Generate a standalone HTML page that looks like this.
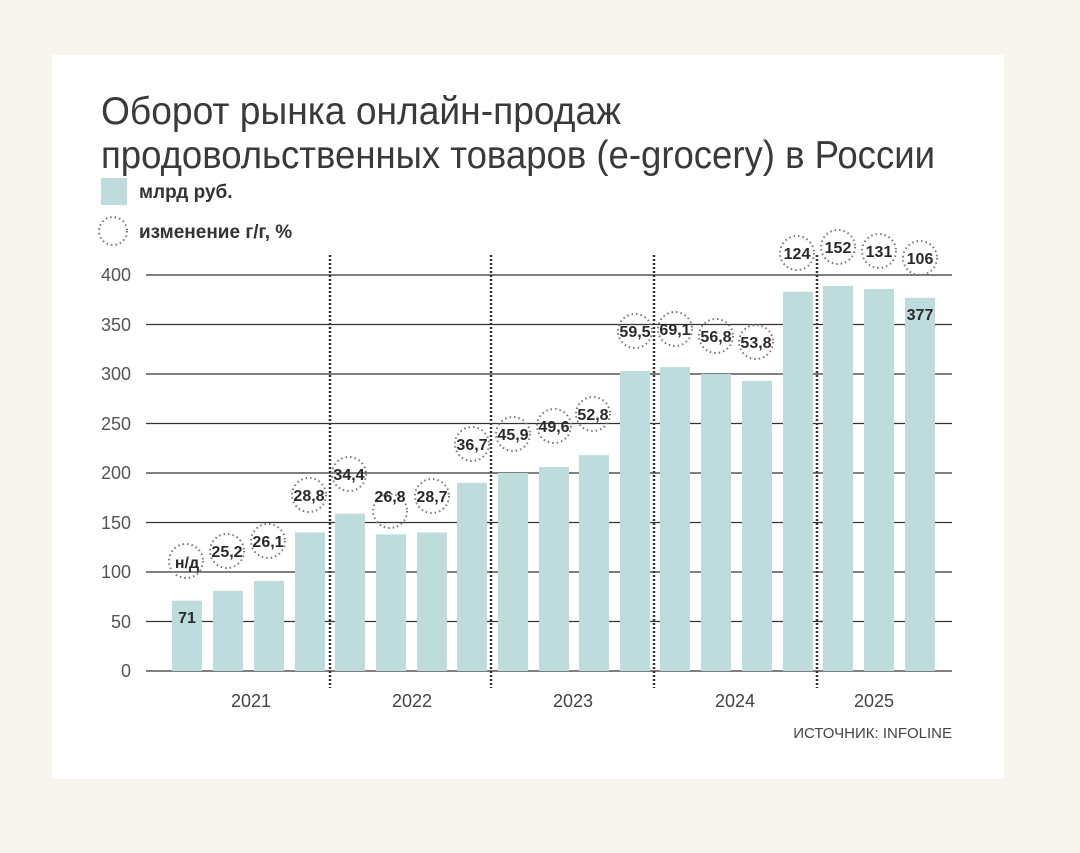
<!DOCTYPE html>
<html><head><meta charset="utf-8"><style>
body{margin:0;background:#f8f4ee;}
svg{display:block}
text{font-family:"Liberation Sans",sans-serif;}
</style></head><body>
<svg width="1080" height="853" viewBox="0 0 1080 853" xmlns="http://www.w3.org/2000/svg">
<rect x="0" y="0" width="1080" height="853" fill="#f8f4ee"/>
<rect x="52" y="55" width="952" height="724" fill="#ffffff"/>
<text x="101" y="124" font-size="39" fill="#3a3a3a" textLength="520" lengthAdjust="spacingAndGlyphs">Оборот рынка онлайн-продаж</text>
<text x="101" y="168" font-size="39" fill="#3a3a3a" textLength="834" lengthAdjust="spacingAndGlyphs">продовольственных товаров (e-grocery) в России</text>
<rect x="101" y="178" width="26" height="27" fill="#bddcdb"/>
<text x="139" y="198" font-size="19" font-weight="bold" fill="#333">млрд руб.</text>
<circle cx="113" cy="231" r="14" fill="none" stroke="#777" stroke-width="2" stroke-dasharray="1.5 3"/>
<text x="139" y="238" font-size="19" font-weight="bold" fill="#333">изменение г/г, %</text>
<g stroke="#333" stroke-width="1.3">
<line x1="146" y1="671" x2="952" y2="671"/>
<line x1="146" y1="621.5" x2="952" y2="621.5"/>
<line x1="146" y1="572" x2="952" y2="572"/>
<line x1="146" y1="522.5" x2="952" y2="522.5"/>
<line x1="146" y1="473" x2="952" y2="473"/>
<line x1="146" y1="423.5" x2="952" y2="423.5"/>
<line x1="146" y1="374" x2="952" y2="374"/>
<line x1="146" y1="324.5" x2="952" y2="324.5"/>
<line x1="146" y1="275" x2="952" y2="275"/>
</g>
<g font-size="18" fill="#555" text-anchor="end">
<text x="131" y="677">0</text><text x="131" y="628">50</text><text x="131" y="578">100</text>
<text x="131" y="529">150</text><text x="131" y="479">200</text><text x="131" y="430">250</text>
<text x="131" y="380">300</text><text x="131" y="331">350</text><text x="131" y="281">400</text>
</g>
<g fill="#bddcdb">
<rect x="172" y="600.7" width="30" height="70.3"/>
<rect x="213" y="590.8" width="30" height="80.2"/>
<rect x="254" y="580.9" width="30" height="90.1"/>
<rect x="295" y="532.4" width="30" height="138.6"/>
<rect x="335" y="513.6" width="30" height="157.4"/>
<rect x="376" y="534.4" width="30" height="136.6"/>
<rect x="417" y="532.4" width="30" height="138.6"/>
<rect x="457" y="482.9" width="30" height="188.1"/>
<rect x="498" y="473" width="30" height="198"/>
<rect x="539" y="467" width="30" height="204"/>
<rect x="579" y="455.2" width="30" height="215.8"/>
<rect x="620" y="371" width="30" height="300"/>
<rect x="660" y="367.1" width="30" height="303.9"/>
<rect x="701" y="374" width="30" height="297"/>
<rect x="742" y="380.9" width="30" height="290.1"/>
<rect x="783" y="291.8" width="30" height="379.2"/>
<rect x="823" y="285.9" width="30" height="385.1"/>
<rect x="864" y="288.9" width="30" height="382.1"/>
<rect x="905" y="297.8" width="30" height="373.2"/>
</g>
<g stroke="#333" stroke-width="2.5" stroke-dasharray="2 2">
<line x1="330" y1="255" x2="330" y2="688"/>
<line x1="491" y1="255" x2="491" y2="688"/>
<line x1="654" y1="255" x2="654" y2="688"/>
<line x1="817" y1="255" x2="817" y2="688"/>
</g>
<g fill="none" stroke="#777" stroke-width="2" stroke-dasharray="1.5 3">
<circle cx="186" cy="561" r="17"/><circle cx="227" cy="551" r="17"/><circle cx="268" cy="541" r="17"/>
<circle cx="309" cy="495" r="17"/><circle cx="349" cy="474" r="17"/><circle cx="390" cy="511" r="17"/>
<circle cx="432" cy="496" r="17"/><circle cx="472" cy="444" r="17"/><circle cx="513" cy="434" r="17"/>
<circle cx="554" cy="426" r="17"/><circle cx="593" cy="414" r="17"/><circle cx="635" cy="331" r="17"/>
<circle cx="675" cy="329" r="17"/><circle cx="716" cy="336" r="17"/><circle cx="756" cy="342" r="17"/>
<circle cx="797" cy="253" r="17"/><circle cx="838" cy="247" r="17"/><circle cx="879" cy="251" r="17"/>
<circle cx="920" cy="258" r="17"/>
</g>
<g font-size="16" font-weight="bold" fill="#2a2a2a" text-anchor="middle">
<text x="187" y="568">н/д</text><text x="227" y="557">25,2</text><text x="268" y="547">26,1</text>
<text x="309" y="501">28,8</text><text x="349" y="480">34,4</text><text x="390" y="502">26,8</text>
<text x="432" y="502">28,7</text><text x="472" y="450">36,7</text><text x="513" y="440">45,9</text>
<text x="554" y="432">49,6</text><text x="593" y="420">52,8</text><text x="635" y="337">59,5</text>
<text x="675" y="335">69,1</text><text x="716" y="342">56,8</text><text x="756" y="348">53,8</text>
<text x="797" y="259">124</text><text x="838" y="253">152</text><text x="879" y="257">131</text>
<text x="920" y="264">106</text>
<text x="187" y="623">71</text><text x="920" y="320">377</text>
</g>
<g font-size="18" fill="#444" text-anchor="middle">
<text x="251" y="707">2021</text><text x="412" y="707">2022</text><text x="573" y="707">2023</text>
<text x="735" y="707">2024</text><text x="874" y="707">2025</text>
</g>
<text x="952" y="738" font-size="15" fill="#444" text-anchor="end">ИСТОЧНИК: INFOLINE</text>
</svg>
</body></html>
